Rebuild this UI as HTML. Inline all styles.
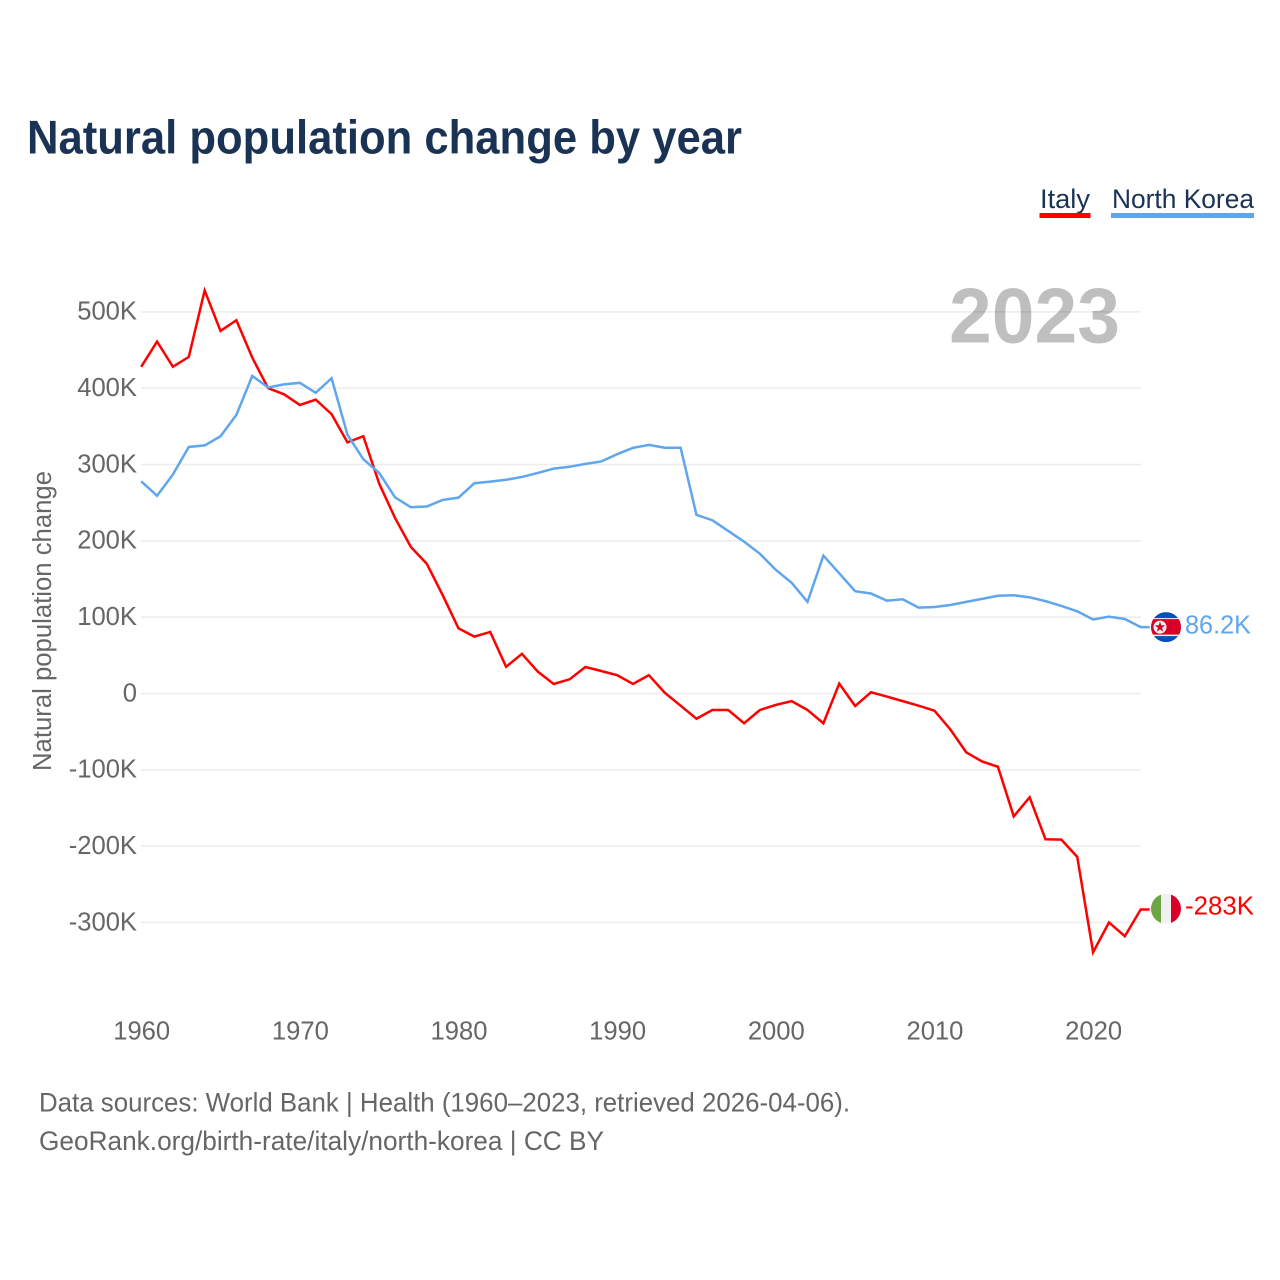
<!DOCTYPE html>
<html lang="en">
<head>
<meta charset="utf-8">
<title>Natural population change by year</title>
<style>
html,body{margin:0;padding:0;background:#fff;}
svg{display:block;font-family:"Liberation Sans",sans-serif;}
</style>
</head>
<body>
<svg id="chart" xmlns="http://www.w3.org/2000/svg" width="1280" height="1280" viewBox="0 0 1280 1280">
  <rect x="0" y="0" width="1280" height="1280" fill="#fff"/>
  <text x="27" y="153.5" font-size="47" font-weight="700" fill="#1a3355" textLength="715" lengthAdjust="spacingAndGlyphs">Natural population change by year</text>

  <g>
    <text x="1040" y="208" font-size="27" fill="#1a3355" textLength="50" lengthAdjust="spacingAndGlyphs">Italy</text>
    <rect x="1039.5" y="213" width="51" height="5" fill="#ff0000"/>
  </g>
  <g>
    <text x="1112" y="208" font-size="27" fill="#1a3355" textLength="142" lengthAdjust="spacingAndGlyphs">North Korea</text>
    <rect x="1111" y="213" width="143" height="5" fill="#5fa6ee"/>
  </g>

  <g id="grid"></g>
  <g id="y-ticks"></g>
  <g id="x-ticks"></g>

  <text transform="translate(51,771) rotate(-90)" x="0" y="0" font-size="25.5" fill="#666666" textLength="300" lengthAdjust="spacingAndGlyphs">Natural population change</text>

  <text x="949" y="342.5" font-size="78" font-weight="700" fill="#000" fill-opacity="0.25" textLength="171" lengthAdjust="spacingAndGlyphs">2023</text>

  <g id="series"></g>

  <defs>
    <clipPath id="clip-kp"><circle cx="0" cy="0" r="15"/></clipPath>
    <clipPath id="clip-it"><circle cx="0" cy="0" r="15"/></clipPath>
  </defs>

  <g id="flag-north-korea">
    <g clip-path="url(#clip-kp)">
      <rect x="-15" y="-15" width="30" height="30" fill="#0052b4"/>
      <rect x="-15" y="-9" width="30" height="18" fill="#f0f0f0"/>
      <rect x="-15" y="-8" width="30" height="15.5" fill="#d80027"/>
      <circle cx="-6" cy="0" r="6.5" fill="#f0f0f0"/>
      <polygon points="-6,-5.5 -4.7,-1.8 -0.8,-1.7 -3.9,0.7 -2.8,4.5 -6,2.3 -9.2,4.5 -8.1,0.7 -11.2,-1.7 -7.3,-1.8" fill="#d80027"/>
    </g>
  </g>
  <g id="flag-italy">
    <g clip-path="url(#clip-it)">
      <rect x="-15" y="-15" width="30" height="30" fill="#f0f0f0"/>
      <rect x="-15" y="-15" width="10" height="30" fill="#6da544"/>
      <rect x="5" y="-15" width="10" height="30" fill="#d80027"/>
    </g>
  </g>

  <text id="value-north-korea" x="1185" font-size="26" fill="#5fa6ee" textLength="66" lengthAdjust="spacingAndGlyphs"></text>
  <text id="value-italy" x="1185" font-size="26" fill="#ff0000" textLength="69" lengthAdjust="spacingAndGlyphs"></text>

  <text x="39" y="1111.5" font-size="26.5" fill="#666666" textLength="811" lengthAdjust="spacingAndGlyphs">Data sources: World Bank | Health (1960–2023, retrieved 2026-04-06).</text>
  <text x="39" y="1150" font-size="26.5" fill="#666666" textLength="565" lengthAdjust="spacingAndGlyphs">GeoRank.org/birth-rate/italy/north-korea | CC BY</text>
</svg>
<script>
const startYear = 1960;
const xTickYears = [1960, 1970, 1980, 1990, 2000, 2010, 2020];
const yTickValues = [500, 400, 300, 200, 100, 0, -100, -200, -300];
const italyValues = [
  428, 461, 428, 441, 528, 475, 489, 440, 400, 392,
  378, 385, 366, 329, 337, 275, 230, 192, 170, 129,
  85.4, 74.5, 80.6, 35, 52, 28.6, 12.5, 18.6, 34.7, 29.5,
  24, 12.5, 24, 1, -16, -33, -21.6, -21.6, -39, -21.6,
  -15, -10, -21.6, -39, 13, -16.4, 1.6, -4, -10, -16,
  -22.5, -47, -77, -89, -96, -161, -136, -191, -191.5, -214,
  -339, -300, -318, -283
];
const northKoreaValues = [
  278, 259, 287, 323, 325, 337, 365, 416, 401, 405,
  407, 394, 413, 339, 307, 289, 257, 244, 245, 253.6,
  256.6, 275.5, 277.6, 280, 283.7, 289, 294.6, 297, 300.8, 304,
  313.5, 321.8, 325.7, 322, 322, 234, 227, 213, 199, 183,
  162, 145, 120, 180.6, 157.5, 134, 131, 121.6, 123.4, 112.5,
  113.4, 116, 120, 124, 128, 128.7, 126, 121, 114.7, 107.7,
  97, 100.7, 97.6, 87
];
const italyLabel = "-283K";
const northKoreaLabel = "86.2K";

const SVG_NS = "http://www.w3.org/2000/svg";
function xScale(year) { return 141.2 + (year - 1960) * 15.865; }
function yScale(value) { return 693.5 - value * 0.7633; }
function formatTick(v) { return v === 0 ? "0" : v + "K"; }

const grid = document.getElementById("grid");
const yTicks = document.getElementById("y-ticks");
yTickValues.forEach(function (v) {
  const line = document.createElementNS(SVG_NS, "line");
  
  
  line.setAttribute("x1", 141);
  line.setAttribute("x2", 1141);
  line.setAttribute("y1", yScale(v));
  line.setAttribute("y2", yScale(v));
  line.setAttribute("stroke", "#ececec");
  line.setAttribute("stroke-width", "1.5");
  grid.appendChild(line);

  const label = document.createElementNS(SVG_NS, "text");
  
  
  label.setAttribute("x", 137);
  label.setAttribute("y", yScale(v) + 7.8);
  label.setAttribute("text-anchor", "end");
  label.setAttribute("font-size", "25.6");
  label.setAttribute("fill", "#666666");
  label.textContent = formatTick(v);
  yTicks.appendChild(label);
});

const xTicks = document.getElementById("x-ticks");
xTickYears.forEach(function (yr) {
  const label = document.createElementNS(SVG_NS, "text");
  
  
  label.setAttribute("x", xScale(yr) + 0.5);
  label.setAttribute("y", 1039.3);
  label.setAttribute("text-anchor", "middle");
  label.setAttribute("font-size", "25.6");
  label.setAttribute("fill", "#666666");
  label.textContent = yr;
  xTicks.appendChild(label);
});

function linePoints(values) {
  const pts = values.map(function (v, i) { return xScale(startYear + i) + "," + yScale(v); });
  const last = values[values.length - 1];
  pts.push((xScale(startYear + values.length - 1) + 9) + "," + yScale(last));
  return pts.join(" ");
}

const seriesGroup = document.getElementById("series");

const italyLine = document.createElementNS(SVG_NS, "polyline");


italyLine.setAttribute("points", linePoints(italyValues));
italyLine.setAttribute("fill", "none");
italyLine.setAttribute("stroke", "#ff0000");
italyLine.setAttribute("stroke-width", "2.5");
italyLine.setAttribute("stroke-linejoin", "miter");

const koreaLine = document.createElementNS(SVG_NS, "polyline");


koreaLine.setAttribute("points", linePoints(northKoreaValues));
koreaLine.setAttribute("fill", "none");
koreaLine.setAttribute("stroke", "#5fa6ee");
koreaLine.setAttribute("stroke-width", "2.5");
koreaLine.setAttribute("stroke-linejoin", "miter");

seriesGroup.appendChild(italyLine);
seriesGroup.appendChild(koreaLine);

const italyEnd = yScale(italyValues[italyValues.length - 1]);
const koreaEnd = yScale(northKoreaValues[northKoreaValues.length - 1]);
document.getElementById("flag-italy").setAttribute("transform", "translate(1166," + (italyEnd - 0.8) + ")");
document.getElementById("flag-north-korea").setAttribute("transform", "translate(1166," + koreaEnd + ")");

const italyValueLabel = document.getElementById("value-italy");
italyValueLabel.setAttribute("y", italyEnd + 5);
italyValueLabel.textContent = italyLabel;
const koreaValueLabel = document.getElementById("value-north-korea");
koreaValueLabel.setAttribute("y", koreaEnd + 6.5);
koreaValueLabel.textContent = northKoreaLabel;
</script>
</body>
</html>
